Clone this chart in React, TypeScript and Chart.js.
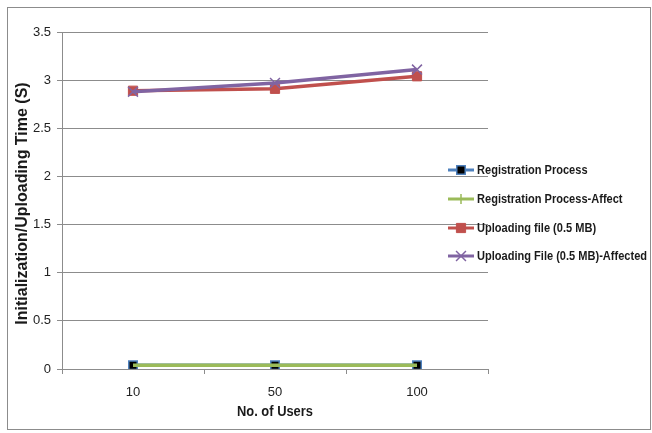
import React, { useEffect, useRef } from "react";
import { Chart, registerables } from "chart.js";

Chart.register(...registerables);

const users = ["10", "50", "100"];
const registration = [0.04, 0.04, 0.04];
const registrationAffect = [0.04, 0.04, 0.04];
const uploading = [2.89, 2.91, 3.04];
const uploadingAffected = [2.88, 2.97, 3.11];

const xTitle = "No. of Users";
const yTitle = "Initialization/Uploading Time (S)";

const FONT = "'Liberation Sans', Arial, sans-serif";

// Grey outer frame round the whole chart
const frame = {
  id: "frame",
  beforeDraw(chart: any) {
    const ctx = chart.ctx;
    ctx.save();
    ctx.fillStyle = "#ffffff";
    ctx.fillRect(0, 0, chart.width, chart.height);
    ctx.strokeStyle = "#8c8c8c";
    ctx.lineWidth = 1;
    ctx.strokeRect(7.5, 7.5, 643, 422);
    ctx.restore();
  },
};

// Bold, slightly condensed text
function condensedText(
  ctx: CanvasRenderingContext2D,
  text: string,
  x: number,
  y: number,
  size: number,
  squeeze: number
) {
  ctx.font = `bold ${size}px ${FONT}`;
  const w = ctx.measureText(text).width;
  ctx.fillText(text, x, y, w * squeeze);
}

const axisTitles = {
  id: "axisTitles",
  afterDraw(chart: any) {
    const ctx = chart.ctx;
    const { left, right } = chart.chartArea;
    ctx.save();
    ctx.fillStyle = "#1a1a1a";
    ctx.textAlign = "center";
    ctx.textBaseline = "middle";
    condensedText(ctx, xTitle, (left + right) / 2, 412, 15, 0.86);
    ctx.translate(23, (chart.chartArea.top + chart.chartArea.bottom) / 2 + 3);
    ctx.rotate(-Math.PI / 2);
    condensedText(ctx, yTitle, 0, 0, 16, 1.0);
    ctx.restore();
  },
};

function marker(ctx: CanvasRenderingContext2D, ds: any, x: number, y: number) {
  const r = ds.pointRadius || 5;
  const h = r * Math.SQRT1_2;
  ctx.strokeStyle = ds.pointBorderColor;
  ctx.fillStyle = ds.pointBackgroundColor ?? ds.pointBorderColor;
  ctx.lineWidth = ds.pointBorderWidth;
  ctx.beginPath();
  if (ds.pointStyle === "rect") {
    ctx.rect(x - h, y - h, h * 2, h * 2);
    ctx.fill();
    ctx.stroke();
  } else if (ds.pointStyle === "cross") {
    ctx.moveTo(x - r, y);
    ctx.lineTo(x + r, y);
    ctx.moveTo(x, y - r);
    ctx.lineTo(x, y + r);
    ctx.stroke();
  } else {
    ctx.moveTo(x - h, y - h);
    ctx.lineTo(x + h, y + h);
    ctx.moveTo(x - h, y + h);
    ctx.lineTo(x + h, y - h);
    ctx.stroke();
  }
}

// Legend laid over the right part of the plot
const sideLegend = {
  id: "sideLegend",
  afterDraw(chart: any) {
    const ctx = chart.ctx;
    const rows = [170, 199, 228, 256];
    ctx.save();
    chart.data.datasets.forEach((ds: any, i: number) => {
      const y = rows[i];
      ctx.strokeStyle = ds.borderColor;
      ctx.lineWidth = 3;
      ctx.beginPath();
      ctx.moveTo(448, y);
      ctx.lineTo(474, y);
      ctx.stroke();
      marker(ctx, ds, 461, y);
      ctx.fillStyle = "#1a1a1a";
      ctx.textBaseline = "middle";
      ctx.textAlign = "left";
      condensedText(ctx, ds.label, 477, y, 13, 0.85);
    });
    ctx.restore();
  },
};

export default function App() {
  const ref = useRef<HTMLCanvasElement>(null);

  useEffect(() => {
    document.body.style.margin = "0";
    const canvas = ref.current!;
    const chart = new Chart(canvas, {
      type: "line",
      data: {
        labels: users,
        datasets: [
          {
            label: "Registration Process",
            data: registration,
            borderColor: "#4F81BD",
            backgroundColor: "#000000",
            pointBorderColor: "#4F81BD",
            pointBackgroundColor: "#000000",
            pointStyle: "rect",
            pointRadius: 6,
            pointBorderWidth: 1.5,
            borderWidth: 3.5,
            order: 4,
          },
          {
            label: "Registration Process-Affect",
            data: registrationAffect,
            borderColor: "#9BBB59",
            backgroundColor: "#9BBB59",
            pointBorderColor: "#9BBB59",
            pointStyle: "cross",
            pointRadius: 0,
            pointBorderWidth: 1.5,
            borderWidth: 3.5,
            order: 3,
          },
          {
            label: "Uploading file (0.5 MB)",
            data: uploading,
            borderColor: "#C0504D",
            backgroundColor: "#C0504D",
            pointBorderColor: "#C0504D",
            pointBackgroundColor: "#C0504D",
            pointStyle: "rect",
            pointRadius: 6.5,
            pointBorderWidth: 1,
            borderWidth: 3.5,
            order: 2,
          },
          {
            label: "Uploading File (0.5 MB)-Affected",
            data: uploadingAffected,
            borderColor: "#8064A2",
            backgroundColor: "#8064A2",
            pointBorderColor: "#8064A2",
            pointStyle: "crossRot",
            pointRadius: 7,
            pointBorderWidth: 1.5,
            borderWidth: 3.5,
            order: 1,
          },
        ],
      },
      options: {
        animation: false,
        responsive: false,
        devicePixelRatio: 1,
        layout: { padding: { left: 10, right: 164, top: 32, bottom: 0 } },
        plugins: {
          legend: { display: false },
          tooltip: { enabled: false },
        },
        scales: {
          x: {
            offset: true,
            afterFit: (s: any) => {
              s.height = 64;
            },
            grid: {
              offset: true,
              drawOnChartArea: false,
              color: "#8c8c8c",
              tickLength: 5,
            },
            border: { color: "#8c8c8c" },
            ticks: { color: "#222", font: { family: FONT, size: 13 }, padding: 11 },
          },
          y: {
            min: 0,
            max: 3.5,
            afterFit: (s: any) => {
              s.width = 52;
            },
            ticks: {
              stepSize: 0.5,
              color: "#222",
              font: { family: FONT, size: 13 },
              padding: 6,
              callback: (v: any) => String(v),
            },
            grid: { color: "#8c8c8c", tickLength: 5 },
            border: { color: "#8c8c8c" },
          },
        },
      },
      plugins: [frame, axisTitles, sideLegend],
    });
    return () => chart.destroy();
  }, []);

  return (
    <div style={{ position: "absolute", left: 0, top: 0, width: 652, height: 433 }}>
      <canvas ref={ref} width={652} height={433} />
    </div>
  );
}
